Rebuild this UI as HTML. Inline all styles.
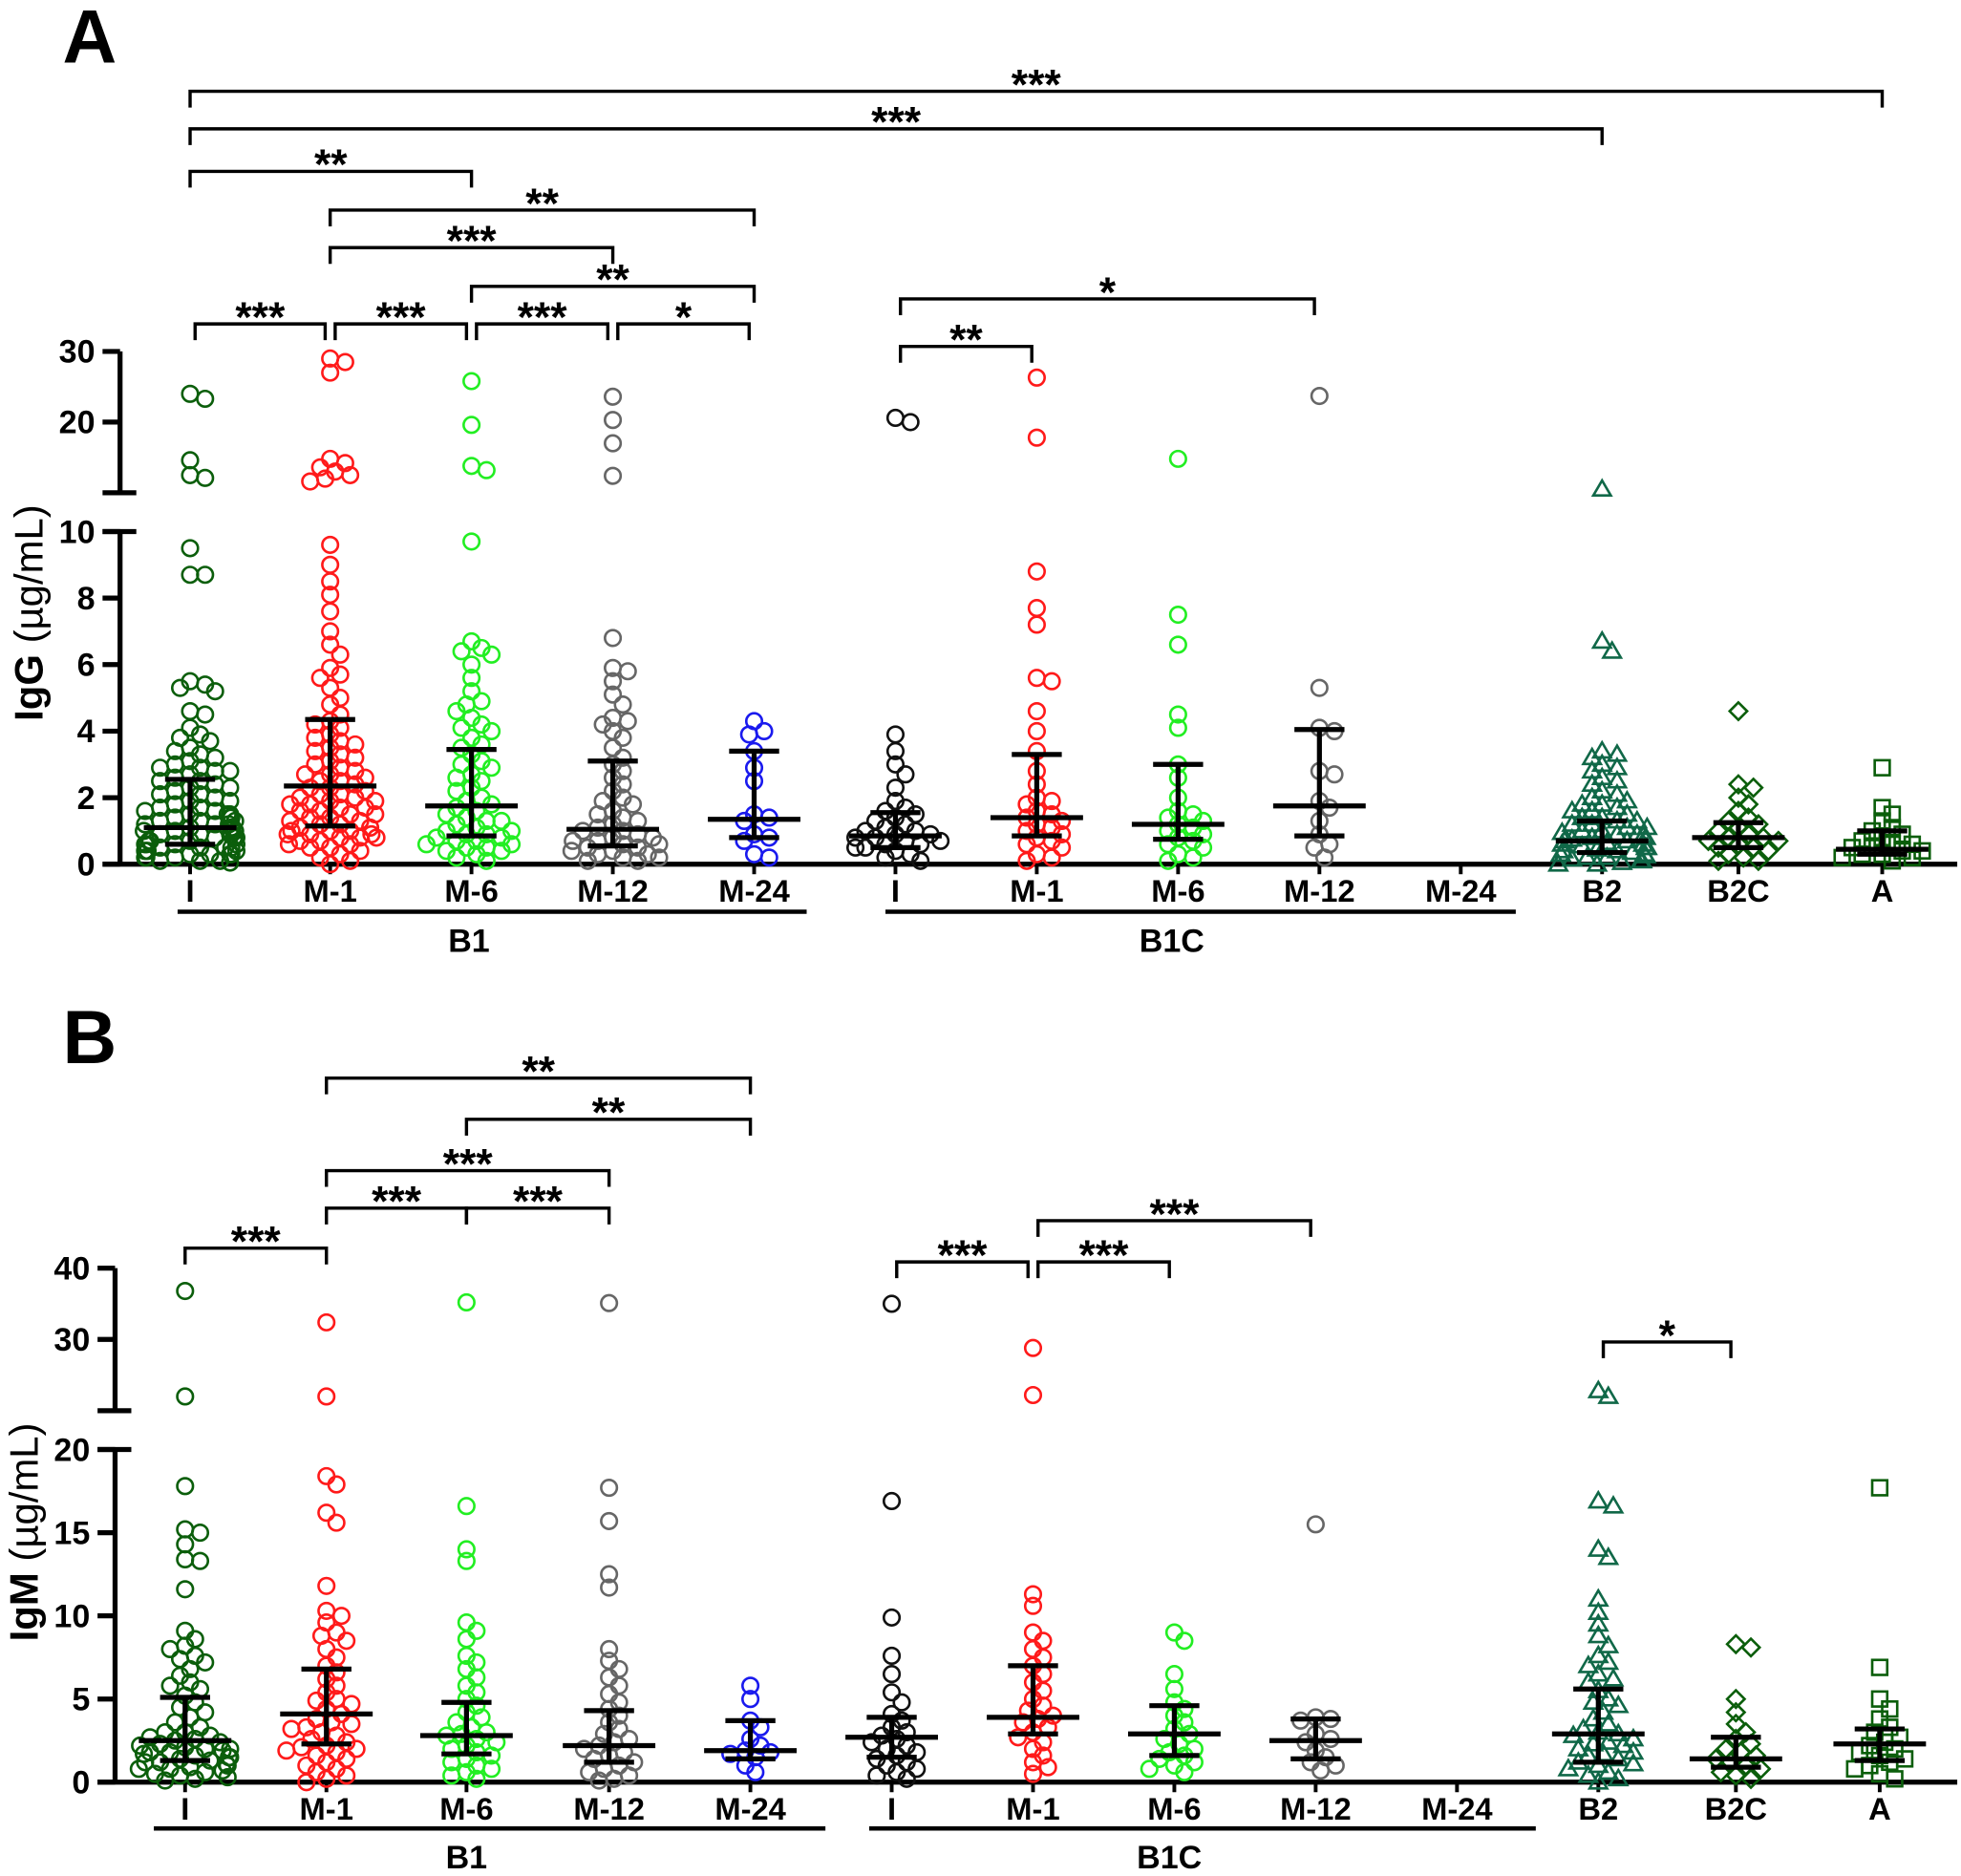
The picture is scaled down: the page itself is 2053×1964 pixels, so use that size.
<!DOCTYPE html>
<html><head><meta charset="utf-8"><style>
html,body{margin:0;padding:0;background:#fff;}
svg{display:block;font-family:"Liberation Sans",Arial,sans-serif;}
</style></head><body>
<svg id="chart" xmlns="http://www.w3.org/2000/svg" width="2053" height="1964" viewBox="0 0 1568 1500">
<rect width="1568" height="1500" fill="#fff"/>
<text x="50" y="50" font-size="60" font-weight="bold">A</text>
<text x="50" y="850" font-size="60" font-weight="bold">B</text>
<g id="gA"></g>
<g id="gB"></g>
</svg>
<script>
// ---------- DATA ----------
const categories = ["I","M-1","M-6","M-12","M-24","I","M-1","M-6","M-12","M-24","B2","B2C","A"];
const colors = ["#0b5e0b","#ff1a1a","#22ee22","#666666","#1a1aee","#111111","#ff1a1a","#22ee22","#666666","#111111","#106848","#0b5e0b","#0b5e0b"];
const shapes = ["c","c","c","c","c","c","c","c","c","c","t","d","s"];

const iggValues = [
 [24,23.3,14.6,12.5,12.1,9.5,8.7,8.7,5.5,5.4,5.3,5.2,4.6,4.5,4.1,3.9,3.8,3.7,3.5,3.4,3.3,3.2,3.1,3.0,2.9,2.9,2.8,2.8,2.7,2.6,2.5,2.5,2.4,2.3,2.3,2.2,2.1,2.1,2.0,1.9,1.9,1.8,1.7,1.7,1.6,1.6,1.5,1.5,1.5,1.4,1.4,1.4,1.3,1.3,1.3,1.2,1.2,1.2,1.1,1.1,1.1,1.0,1.0,1.0,0.9,0.9,0.9,0.9,0.8,0.8,0.8,0.8,0.7,0.7,0.7,0.7,0.6,0.6,0.6,0.6,0.5,0.5,0.5,0.5,0.4,0.4,0.4,0.4,0.3,0.3,0.3,0.3,0.2,0.2,0.2,0.1,0.1,0.1,0.05],
 [29,28.5,27,14.8,14.2,13.6,13.0,12.5,12.0,11.6,9.6,9.0,8.5,8.1,7.6,7.0,6.6,6.3,5.9,5.7,5.6,5.3,5.0,4.8,4.5,4.3,4.2,4.1,3.9,3.8,3.7,3.6,3.5,3.4,3.3,3.2,3.1,3.0,2.9,2.8,2.7,2.7,2.6,2.5,2.5,2.4,2.3,2.3,2.2,2.1,2.1,2.0,2.0,1.9,1.9,1.8,1.8,1.7,1.7,1.6,1.6,1.5,1.5,1.4,1.4,1.3,1.3,1.2,1.2,1.1,1.1,1.0,1.0,1.0,0.9,0.9,0.9,0.8,0.8,0.8,0.7,0.7,0.6,0.6,0.5,0.5,0.4,0.3,0.2,0.1,0.0],
 [25.8,19.6,13.8,13.2,9.7,6.7,6.5,6.4,6.3,6.0,5.6,5.2,4.9,4.8,4.6,4.4,4.2,4.1,4.0,3.8,3.6,3.5,3.3,3.1,3.0,2.9,2.7,2.6,2.5,2.3,2.2,2.0,1.9,1.8,1.7,1.6,1.5,1.4,1.3,1.3,1.2,1.1,1.0,1.0,0.9,0.9,0.8,0.8,0.7,0.7,0.6,0.6,0.5,0.5,0.4,0.4,0.3,0.2,0.1],
 [23.6,20.3,17,12.4,6.8,5.9,5.8,5.5,5.1,4.8,4.4,4.3,4.2,4.0,3.8,3.5,3.2,3.0,2.8,2.6,2.4,2.2,2.0,1.9,1.8,1.6,1.5,1.4,1.3,1.2,1.1,1.0,1.0,0.9,0.8,0.8,0.7,0.7,0.6,0.6,0.5,0.5,0.4,0.4,0.3,0.3,0.2,0.2,0.1,0.1],
 [4.3,4.0,3.9,3.4,2.9,2.5,1.5,1.4,1.3,0.9,0.8,0.7,0.3,0.2],
 [20.6,20.0,3.9,3.4,3.0,2.7,2.3,1.9,1.7,1.6,1.5,1.4,1.3,1.2,1.1,1.0,1.0,0.9,0.9,0.8,0.8,0.7,0.7,0.6,0.6,0.5,0.5,0.4,0.3,0.2,0.1],
 [26.3,17.8,8.8,7.7,7.2,5.6,5.5,4.6,4.0,3.4,2.8,2.4,2.0,1.9,1.8,1.6,1.5,1.4,1.3,1.2,1.1,1.0,0.9,0.8,0.7,0.6,0.5,0.3,0.2,0.1],
 [14.8,7.5,6.6,4.5,4.1,3.0,2.6,2.0,1.6,1.5,1.4,1.3,1.2,1.1,1.0,0.9,0.8,0.7,0.6,0.5,0.3,0.2,0.1],
 [23.7,5.3,4.1,4.0,2.8,2.7,1.9,1.7,1.3,0.9,0.6,0.5,0.2],
 [],
 [10.5,6.7,6.4,3.4,3.3,3.2,3.0,2.9,2.8,2.6,2.5,2.4,2.2,2.1,2.0,1.9,1.8,1.8,1.7,1.6,1.6,1.5,1.4,1.4,1.3,1.3,1.2,1.2,1.1,1.1,1.0,1.0,0.95,0.9,0.9,0.85,0.8,0.8,0.75,0.7,0.7,0.65,0.6,0.6,0.55,0.5,0.5,0.45,0.4,0.4,0.35,0.3,0.3,0.25,0.2,0.2,0.15,0.1,0.1,0.05,0.0,0.0],
 [4.6,2.4,2.3,2.0,1.8,1.6,1.4,1.3,1.2,1.1,1.0,0.9,0.8,0.8,0.7,0.7,0.6,0.5,0.5,0.4,0.3,0.2,0.1,0.1],
 [2.9,1.7,1.5,1.3,1.1,1.0,0.9,0.8,0.7,0.6,0.6,0.5,0.5,0.4,0.4,0.3,0.3,0.2,0.2,0.1]
];
const iggMedian = [1.1,2.35,1.75,1.05,1.35,0.85,1.4,1.2,1.75,null,0.7,0.8,0.45];
const iggLow    = [0.6,1.15,0.85,0.55,0.8,0.5,0.85,0.75,0.85,null,0.35,0.5,0.3];
const iggHigh   = [2.55,4.35,3.45,3.1,3.4,1.55,3.3,3.0,4.05,null,1.3,1.25,1.0];

const igmValues = [
 [36.8,22,17.8,15.2,15.0,14.3,13.4,13.3,11.6,9.1,8.6,8.2,8.0,7.6,7.4,7.2,6.8,6.4,6.0,5.8,5.6,5.2,4.8,4.5,4.2,3.9,3.6,3.3,3.0,3.0,2.8,2.7,2.6,2.5,2.4,2.3,2.2,2.1,2.0,2.0,1.9,1.8,1.8,1.7,1.6,1.5,1.5,1.4,1.3,1.2,1.2,1.1,1.0,0.9,0.8,0.8,0.7,0.6,0.5,0.4,0.3,0.2,0.1],
 [32.4,22,18.4,17.9,16.2,15.6,11.8,10.3,10.0,9.6,9.0,8.8,8.5,8.0,7.5,7.0,6.6,6.2,5.8,5.4,5.0,4.9,4.7,4.4,4.1,3.8,3.6,3.5,3.3,3.2,3.0,2.8,2.6,2.4,2.2,2.1,2.0,1.9,1.8,1.6,1.4,1.2,1.0,0.8,0.6,0.4,0.2,0.0],
 [35.2,16.6,14.0,13.3,9.6,9.1,8.6,7.6,7.2,6.8,6.3,5.8,5.4,5.0,4.6,4.2,3.9,3.6,3.3,3.0,2.9,2.8,2.6,2.4,2.2,2.0,1.8,1.6,1.4,1.2,1.0,0.8,0.6,0.4,0.2],
 [35.1,17.7,15.7,12.5,11.7,8.0,7.3,6.8,6.3,5.8,5.3,4.8,4.4,4.0,3.6,3.2,2.9,2.6,2.4,2.2,2.0,1.8,1.6,1.4,1.2,1.0,0.8,0.6,0.4,0.2,0.1],
 [5.8,5.0,3.7,3.3,2.6,2.2,1.9,1.8,1.7,1.5,1.0,0.6],
 [35,16.9,9.9,7.6,6.5,5.4,4.8,4.1,3.7,3.3,3.0,2.8,2.6,2.4,2.2,2.0,1.8,1.6,1.4,1.2,1.0,0.8,0.6,0.4,0.2],
 [28.8,22.2,11.3,10.6,9.0,8.5,8.0,7.5,7.0,6.5,6.0,5.5,5.0,4.6,4.3,4.0,3.8,3.6,3.3,3.0,2.7,2.4,2.0,1.6,1.2,0.9,0.5],
 [9.0,8.5,6.5,5.6,4.8,4.4,4.0,3.6,3.2,2.9,2.6,2.3,2.0,1.8,1.6,1.4,1.2,1.0,0.8,0.6],
 [15.5,3.9,3.8,3.7,2.9,2.6,2.4,1.9,1.5,1.2,1.0,0.7],
 [],
 [22.8,22.0,16.9,16.6,14.0,13.5,11.0,10.2,9.5,8.8,8.2,7.6,7.2,7.0,6.5,6.2,6.0,5.5,5.0,4.8,4.6,4.2,3.8,3.5,3.2,3.0,2.9,2.8,2.6,2.4,2.3,2.2,2.0,1.8,1.7,1.6,1.4,1.2,1.1,1.0,0.8,0.6,0.4,0.2,0.0],
 [8.3,8.1,5.0,4.2,3.5,3.0,2.6,2.3,2.0,1.8,1.6,1.4,1.2,1.0,0.8,0.6,0.4,0.2],
 [17.7,6.9,5.0,4.4,3.8,3.3,3.0,2.7,2.4,2.2,2.0,1.8,1.6,1.4,1.2,1.0,0.8,0.5,0.2]
];
const igmMedian = [2.5,4.1,2.8,2.2,1.9,2.7,3.9,2.9,2.5,null,2.9,1.4,2.3];
const igmLow    = [1.3,2.3,1.7,1.2,1.4,1.5,2.9,1.6,1.4,null,1.2,0.9,1.3];
const igmHigh   = [5.1,6.8,4.8,4.3,3.7,3.9,7.0,4.6,3.8,null,5.6,2.7,3.2];

const iggLowerTicks = [0,2,4,6,8,10];
const iggUpperTicks = [20,30];
const igmLowerTicks = [0,5,10,15,20];
const igmUpperTicks = [30,40];

// significance: [groupIndexFrom, groupIndexTo, label]
const iggSig = [[0,12,"***"],[0,10,"***"],[0,2,"**"],[1,4,"**"],[1,3,"***"],[2,4,"**"],[0,1,"***"],[1,2,"***"],[2,3,"***"],[3,4,"*"],[5,8,"*"],[5,6,"**"]];
const igmSig = [[1,4,"**"],[2,4,"**"],[1,3,"***"],[1,2,"***"],[2,3,"***"],[0,1,"***"],[5,6,"***"],[6,7,"***"],[6,8,"***"],[10,11,"*"]];

// ---------- LAYOUT ----------
const NS="http://www.w3.org/2000/svg";
function mk(parent,tag,attrs,text){const e=document.createElementNS(NS,tag);for(const k in attrs)e.setAttribute(k,attrs[k]);if(text!==undefined)e.textContent=text;parent.appendChild(e);return e;}

const panels = [
 {g:document.getElementById("gA"), name:"igg", axisX:96, xs:[152,264,377,490,603,716,829,942,1055,1168,1281,1390,1505],
  zeroY:691, lowMax:10, lowTopY:425, upMin:10, upMax:30, upBotY:394, upTopY:281,
  lowTicks:iggLowerTicks, upTicks:iggUpperTicks, values:iggValues, med:iggMedian, lo:iggLow, hi:iggHigh, sig:iggSig,
  sigY:[73,103,137,168,198,229,259,259,259,259,239,277], xEnd:1565,
  labelY:721, ulY:729, grpY:761, grp:[[142,645,375,"B1"],[708,1212,937,"B1C"]], ylabelY:490, ylabX:34, ylab:"IgG"},
 {g:document.getElementById("gB"), name:"igm", axisX:92, xs:[148,261,373,487,600,713,826,939,1052,1165,1278,1388,1503],
  zeroY:1425, lowMax:20, lowTopY:1159, upMin:20, upMax:40, upBotY:1128, upTopY:1014,
  lowTicks:igmLowerTicks, upTicks:igmUpperTicks, values:igmValues, med:igmMedian, lo:igmLow, hi:igmHigh, sig:igmSig,
  sigY:[862,895,936,966,966,998,1009,1009,976,1073], xEnd:1565,
  labelY:1455, ulY:1462, grpY:1494, grp:[[123,660,373,"B1"],[695,1228,935,"B1C"]], ylabelY:1225, ylabX:30, ylab:"IgM"}
];

panels.forEach(P=>{
 const g=P.g;
 const yOf=v=> v<=P.lowMax ? P.zeroY-(v/P.lowMax)*(P.zeroY-P.lowTopY)
   : P.upBotY-(v-P.upMin)/(P.upMax-P.upMin)*(P.upBotY-P.upTopY);
 const ax=mk(g,"g",{stroke:"#000","stroke-width":4});
 
 
 mk(ax,"line",{x1:P.axisX,y1:P.zeroY,x2:P.axisX,y2:P.lowTopY});
 mk(ax,"line",{x1:P.axisX,y1:P.upBotY,x2:P.axisX,y2:P.upTopY});
 mk(ax,"line",{x1:P.axisX-14,y1:P.upBotY,x2:P.axisX+13,y2:P.upBotY});
 mk(ax,"line",{x1:P.axisX-14,y1:P.lowTopY,x2:P.axisX+13,y2:P.lowTopY});
 mk(ax,"line",{x1:P.axisX-14,y1:P.zeroY,x2:P.xEnd,y2:P.zeroY});
 P.xs.forEach(x=>mk(ax,"line",{x1:x,y1:P.zeroY,x2:x,y2:P.zeroY+8,"stroke-width":3}));
 P.lowTicks.concat(P.upTicks).forEach(t=>{
  const y=yOf(t);
  mk(ax,"line",{x1:P.axisX-14,y1:y,x2:P.axisX,y2:y});
  const tl=mk(g,"text",{x:P.axisX-20,y:y+9,"text-anchor":"end","font-size":26,"font-weight":"bold"},String(t));
  
  
 });
 const yl=mk(g,"text",{transform:`translate(${P.ylabX},${P.ylabelY}) rotate(-90)`,"text-anchor":"middle","font-size":32});
 
 
 mk(yl,"tspan",{"font-weight":"bold"},P.ylab+" ");
 mk(yl,"tspan",{},"(\u00b5g/mL)");
 P.xs.forEach((x,i)=>{
  const t=mk(g,"text",{x:x,y:P.labelY,"text-anchor":"middle","font-size":25,"font-weight":"bold"},categories[i]);
  
  
 });
 P.grp.forEach(a=>{
  const l=mk(g,"line",{x1:a[0],y1:P.ulY,x2:a[1],y2:P.ulY,stroke:"#000","stroke-width":3.5});
  
  
  const t=mk(g,"text",{x:a[2],y:P.grpY,"text-anchor":"middle","font-size":26,"font-weight":"bold"},a[3]);
  
  
 });
 const r=6.3;
 P.values.forEach((vals,gi)=>{
  const cx=P.xs[gi]; const placed=[];
  const sorted=vals.slice().sort((a,b)=>b-a);
  const gg=mk(g,"g",{fill:"none",stroke:colors[gi],"stroke-width":2});
  
  
  sorted.forEach(v=>{
   const y=yOf(v); let x=cx;
   for(let k=0;k<40;k++){
    const off=(k%2?1:-1)*Math.ceil(k/2)*4;
    const tx=cx+off;
    if(placed.every(p=>Math.hypot(p[0]-tx,p[1]-y)>=9)){x=tx;break;}
    if(k===39) x=cx+((placed.length%2)?1:-1)*((placed.length*7)%34);
   }
   if(Math.abs(x-cx)>38) x=cx+Math.sign(x-cx)*(30+(placed.length%8));
   placed.push([x,y]);
   let m;
   if(shapes[gi]==="c") m=mk(gg,"circle",{cx:x,cy:y,r:r});
   else if(shapes[gi]==="t") m=mk(gg,"polygon",{points:`${x},${y-7} ${x-7},${y+5} ${x+7},${y+5}`});
   else if(shapes[gi]==="d") m=mk(gg,"polygon",{points:`${x},${y-7} ${x+7},${y} ${x},${y+7} ${x-7},${y}`});
   else m=mk(gg,"rect",{x:x-6,y:y-6,width:12,height:12});
   
   
  });
 });
 P.xs.forEach((x,i)=>{
  if(P.med[i]==null) return;
  const eb=mk(g,"g",{stroke:"#000","stroke-width":4});
  
  
  const ym=yOf(P.med[i]),yl2=yOf(P.lo[i]),yh=yOf(P.hi[i]);
  mk(eb,"line",{x1:x,y1:yl2,x2:x,y2:yh});
  mk(eb,"line",{x1:x-37,y1:ym,x2:x+37,y2:ym});
  mk(eb,"line",{x1:x-20,y1:yl2,x2:x+20,y2:yl2});
  mk(eb,"line",{x1:x-20,y1:yh,x2:x+20,y2:yh});
 });
 P.sig.forEach((s,k)=>{
  const x1=P.xs[s[0]]+(k>5?4:0), x2=P.xs[s[1]]-(k>5?4:0), y=P.sigY[k];
  const b=mk(g,"g",{});
  
  
  mk(b,"polyline",{points:`${x1},${y+13} ${x1},${y} ${x2},${y} ${x2},${y+13}`,fill:"none",stroke:"#000","stroke-width":2.6});
  mk(b,"text",{x:(x1+x2)/2,y:y+6,"text-anchor":"middle","font-size":34,"font-weight":"bold"},s[2]);
 });
});
</script>
</body></html>
